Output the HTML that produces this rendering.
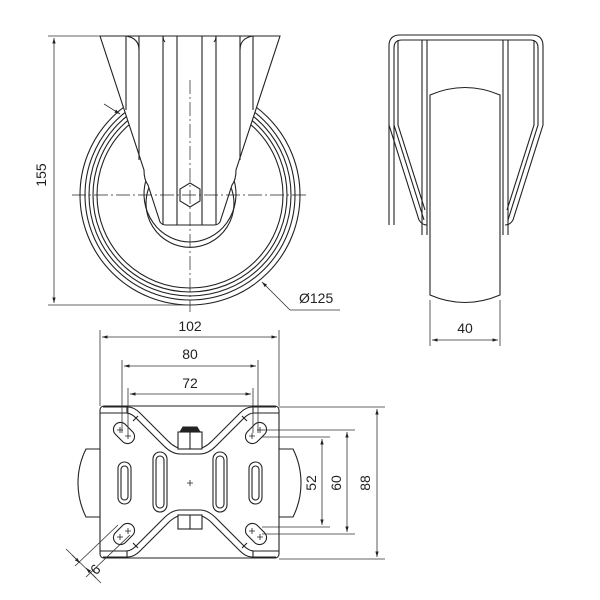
<!DOCTYPE html>
<html><head><meta charset="utf-8"><style>
html,body{margin:0;padding:0;background:#fff;}
svg{display:block}
text{font-family:"Liberation Sans",sans-serif;font-size:14px;fill:#222}
</style></head><body>
<svg width="600" height="600" viewBox="0 0 600 600" xmlns="http://www.w3.org/2000/svg">
<defs>
<marker id="a" viewBox="0 0 10 10" refX="10" refY="5" markerWidth="7" markerHeight="7" orient="auto-start-reverse"><path d="M0,2 L10,5 L0,8 z" fill="#222"/></marker>
</defs>
<g fill="none" stroke="#222" stroke-width="1.1">
<circle cx="190" cy="195" r="110"/>
<circle cx="190" cy="195" r="105"/>
<circle cx="190" cy="195" r="101"/>
<circle cx="190" cy="195" r="97"/>
<circle cx="190" cy="195" r="93"/>
<path d="M150,185 A44,44 0 1 0 230,185"/>
<path d="M146,180 A46,48 0 1 0 234,180"/>
<path d="M100,36 L280,36 L236,170 Q236,180 232,185 L220,222 Q218,225 214,225 L166,225 Q162,225 160,222 L148,185 Q144,180 144,170 Z" fill="#fff"/>
<path d="M126,36 V110 M139,36 V160 M163,36 V225 M177,36 V225 M202,36 V225 M216,36 V225 M240,36 V160 M253,36 V110"/>
<path d="M126,36 Q139,38 139,50 M253,36 Q240,38 240,50 M163,36 Q163,40 165,42 M216,36 Q216,40 214,42"/>
<polygon points="190,183 200,189 200,201 190,207 180,201 180,189" fill="#fff"/>
</g>
<g stroke="#222" stroke-width="0.7" fill="none" stroke-dasharray="14,3,2,3">
<line x1="72" y1="195" x2="308" y2="195"/>
<line x1="190" y1="80" x2="190" y2="312"/>
</g>
<g stroke="#333" stroke-width="0.8" fill="none">
<line x1="48" y1="36" x2="100" y2="36"/>
<line x1="48" y1="305" x2="190" y2="305"/>
<line x1="54" y1="38" x2="54" y2="303" marker-start="url(#a)" marker-end="url(#a)"/>
<path d="M340,310 H290 L262,282" marker-end="url(#a)"/>
<path d="M104,104 L120,114" marker-end="url(#a)"/>
</g>
<text x="46" y="175" transform="rotate(-90 46 175)" text-anchor="middle">155</text>
<text x="299" y="303">Ø125</text>

<g fill="none" stroke="#222" stroke-width="1.1">
<path d="M389,225 L389,46 Q389,35 400,35 L532,35 Q543,35 543,46 L543,125 L513,220 Q510,225 505,225"/>
<path d="M394,225 L394,48 Q394,40 402,40 L530,40 Q538,40 538,48 L538,125 L508,220"/>
<path d="M389,125 L419,220 Q422,225 427,225 M394,125 L424,220"/>
<path d="M398,40 V125 L425,210 M534,40 V125 L507,210"/>
<path d="M422,40 V235 M427,40 V235 M503,40 V235 M508,40 V235"/>
<path d="M430,95 Q465,80 500,95 V295 Q465,310 430,295 Z" fill="#fff"/>
</g>
<g stroke="#333" stroke-width="0.8" fill="none">
<line x1="430" y1="300" x2="430" y2="346"/>
<line x1="500" y1="300" x2="500" y2="346"/>
<line x1="432" y1="340" x2="498" y2="340" marker-start="url(#a)" marker-end="url(#a)"/>
</g>
<text x="465" y="333" text-anchor="middle">40</text>

<g fill="none" stroke="#222" stroke-width="1.1">
<path d="M100,449 H86 Q78,465 78,483 Q78,501 86,517 H100"/>
<path d="M279,449 H293 Q301,465 301,483 Q301,501 293,517 H279"/>
<rect x="100" y="406" width="179" height="152" rx="4"/>
<path d="M103,407 H128 Q134,407 140,413 L168,441 Q176,449 184,449 H196 Q204,449 212,441 L240,413 Q246,407 252,407 H276"/>
<path d="M100,413 H126 Q131,413 136,418 L164,446 Q172,454 180,454 H200 Q208,454 216,446 L244,418 Q249,413 254,413 H279"/>
<path d="M103,557 H128 Q134,557 140,551 L168,523 Q176,515 184,515 H196 Q204,515 212,523 L240,551 Q246,557 252,557 H276"/>
<path d="M100,551 H126 Q131,551 136,546 L164,518 Q172,510 180,510 H200 Q208,510 216,518 L244,546 Q249,551 254,551 H279"/>
<path d="M127,406 V413 M253,406 V413 M127,551 V558 M253,551 V558 M138,416 L133,421 M242,416 L247,421 M138,548 L133,543 M242,548 L247,543"/>
<rect x="178" y="432" width="24" height="17" fill="#fff"/><line x1="190" y1="432" x2="190" y2="449"/>
<path d="M180,432 L183,427 H197 L200,432" fill="#222"/>
<rect x="178" y="515" width="24" height="14" fill="#fff"/><line x1="190" y1="515" x2="190" y2="529"/>
<g transform="rotate(45 124 433)"><rect x="112" y="426" width="24" height="14" rx="7"/></g>
<g transform="rotate(-45 256 433)"><rect x="244" y="426" width="24" height="14" rx="7"/></g>
<g transform="rotate(-45 124 534)"><rect x="112" y="527" width="24" height="14" rx="7"/></g>
<g transform="rotate(45 256 534)"><rect x="244" y="527" width="24" height="14" rx="7"/></g>
<rect x="118" y="462" width="13" height="42" rx="6.5"/><rect x="121" y="466" width="7" height="34" rx="3.5"/>
<rect x="153" y="452" width="14" height="60" rx="7"/><rect x="156" y="456" width="8" height="52" rx="4"/>
<rect x="213" y="452" width="14" height="60" rx="7"/><rect x="216" y="456" width="8" height="52" rx="4"/>
<rect x="249" y="462" width="13" height="42" rx="6.5"/><rect x="252" y="466" width="7" height="34" rx="3.5"/>
</g>
<g stroke="#222" stroke-width="0.8">
<path d="M187,483 h6 M190,480 v6"/>
<path d="M117,430 h6 M120,427 v6 M125,436 h6 M128,433 v6"/>
<path d="M249,436 h6 M252,433 v6 M257,430 h6 M260,427 v6"/>
<path d="M117,537 h6 M120,534 v6 M125,531 h6 M128,528 v6"/>
<path d="M249,531 h6 M252,528 v6 M257,537 h6 M260,534 v6"/>
</g>
<g stroke="#333" stroke-width="0.8" fill="none">
<line x1="100" y1="330" x2="100" y2="406"/><line x1="279" y1="330" x2="279" y2="406"/>
<line x1="102" y1="337" x2="277" y2="337" marker-start="url(#a)" marker-end="url(#a)"/>
<line x1="122" y1="360" x2="122" y2="433"/><line x1="258" y1="360" x2="258" y2="433"/>
<line x1="124" y1="366" x2="256" y2="366" marker-start="url(#a)" marker-end="url(#a)"/>
<line x1="128" y1="388" x2="128" y2="433"/><line x1="253" y1="388" x2="253" y2="433"/>
<line x1="130" y1="394" x2="251" y2="394" marker-start="url(#a)" marker-end="url(#a)"/>
<line x1="279" y1="407" x2="385" y2="407"/><line x1="279" y1="559" x2="385" y2="559"/>
<line x1="377" y1="409" x2="377" y2="557" marker-start="url(#a)" marker-end="url(#a)"/>
<line x1="262" y1="430" x2="355" y2="430"/><line x1="262" y1="534" x2="355" y2="534"/>
<line x1="347" y1="432" x2="347" y2="532" marker-start="url(#a)" marker-end="url(#a)"/>
<line x1="262" y1="437" x2="330" y2="437"/><line x1="262" y1="527" x2="330" y2="527"/>
<line x1="322" y1="439" x2="322" y2="525" marker-start="url(#a)" marker-end="url(#a)"/>
<line x1="118" y1="525" x2="75" y2="566"/><line x1="130" y1="535" x2="86" y2="577"/>
<line x1="66" y1="549" x2="101" y2="583"/>
<path d="M72,555 L80,563" marker-end="url(#a)"/><path d="M96,578 L86,568" marker-end="url(#a)"/>
</g>
<text x="190" y="331" text-anchor="middle">102</text>
<text x="190" y="359" text-anchor="middle">80</text>
<text x="190" y="388" text-anchor="middle">72</text>
<text x="370" y="483" transform="rotate(-90 370 483)" text-anchor="middle">88</text>
<text x="341" y="483" transform="rotate(-90 341 483)" text-anchor="middle">60</text>
<text x="316" y="483" transform="rotate(-90 316 483)" text-anchor="middle">52</text>
<text x="92" y="566" transform="rotate(135 92 566)" text-anchor="middle">9</text>
</svg>
</body></html>
